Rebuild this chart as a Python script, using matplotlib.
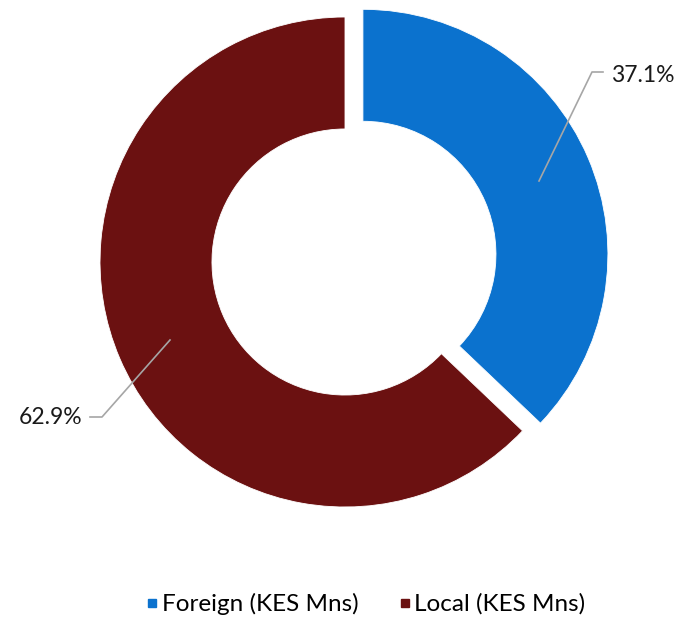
import numpy as np
import matplotlib.pyplot as plt
from matplotlib.lines import Line2D

labels = ['Foreign (KES Mns)', 'Local (KES Mns)']
shares = [37.1, 62.9]
colors = ['#0B72CE', '#6B1111']

W, H = 679, 621
fig = plt.figure(figsize=(W / 100, H / 100), dpi=100)
ax = fig.add_axes([0, 0, 1, 1])
ax.set_xlim(0, W)
ax.set_ylim(0, H)
ax.set_aspect('equal')
ax.axis('off')

cx, cy, R = 345, H - 262, 245
# explode offset is in data units here (pixels)
ax.pie(shares, colors=colors, startangle=90, counterclock=False,
       explode=[19.5, 0], radius=R, center=(cx, cy),
       wedgeprops=dict(width=R * 0.457, edgecolor='white', linewidth=0.6))
ax.set_xlim(0, W)
ax.set_ylim(0, H)

grey = '#A6A6A6'
# leader lines (pixel coords, y from top)
ax.plot([539, 592, 603], [H - 181, H - 72, H - 72], color=grey, lw=1.2)
ax.plot([170, 102, 90], [H - 340, H - 417, H - 417], color=grey, lw=1.2)
ax.text(611, H - 75, '{:.1f}%'.format(shares[0]), fontsize=16.5, family='Lato',
        ha='left', va='center', color='#1a1a1a')
ax.text(82, H - 417, '{:.1f}%'.format(shares[1]), fontsize=16.5, family='Lato',
        ha='right', va='center', color='#1a1a1a')

handles = [Line2D([], [], marker='s', ls='', color=c, markersize=6) for c in colors]
fig.legend(handles, labels, loc='center', bbox_to_anchor=(364 / W, 1 - 604 / H),
           ncol=2, frameon=False, handletextpad=0.0,
           columnspacing=1.5, handlelength=0.8, prop={'family': 'Lato', 'size': 17.5})

fig.savefig('out.png', dpi=100)
